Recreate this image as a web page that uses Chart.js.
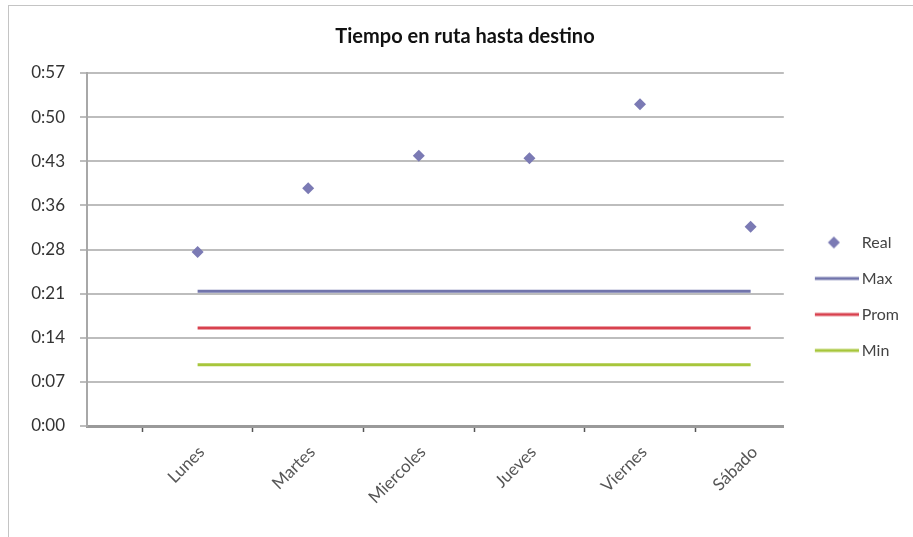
<!DOCTYPE html>
<html>
<head>
<meta charset="utf-8">
<title>Tiempo en ruta hasta destino</title>
<script src="https://cdn.jsdelivr.net/npm/chart.js@4/dist/chart.umd.min.js"></script>
<style>
  html, body { margin: 0; padding: 0; background: #fff; }
  #wrap { position: relative; width: 913px; height: 537px; overflow: hidden; }
  #wrap canvas { position: absolute; left: 0; top: 0; }
  #frame { position: absolute; left: 8px; top: 5px; right: -4px; bottom: -4px;
           border-left: 1px solid #c4c4c4; border-top: 1px solid #c4c4c4; pointer-events: none; }
</style>
</head>
<body>
<div id="wrap">
  <canvas id="chart" width="913" height="537"></canvas>
  <div id="frame"></div>
</div>
<script>
// Days of the week on the category axis
const days = ['Lunes', 'Martes', 'Miercoles', 'Jueves', 'Viernes', 'Sábado'];
// Travel time per day, in minutes
const realMin = [28.4, 38.8, 44.1, 43.7, 52.5, 32.5];
const maxMin  = [22, 22, 22, 22, 22, 22];
const promMin = [16, 16, 16, 16, 16, 16];
const minMin  = [10, 10, 10, 10, 10, 10];
// Value-axis ticks (minutes), shown as h:mm
const yTicks = [0, 7.2, 14.4, 21.6, 28.8, 36, 43.2, 50.4, 57.6];

const colReal = '#7b7ab4';
const colMax  = '#7174ab';
const colProm = '#d8414e';
const colMin  = '#a7c63b';

function hmm(v) {
  const m = Math.floor(v + 1e-6);
  return Math.floor(m / 60) + ':' + String(m % 60).padStart(2, '0');
}
const toPoints = arr => arr.map((v, i) => ({ x: i, y: v }));

// Legend swatches
function swatch(draw) {
  const c = document.createElement('canvas');
  c.width = 60; c.height = 14;
  draw(c.getContext('2d'));
  return c;
}
const diamond = swatch(g => {
  g.fillStyle = colReal;
  g.beginPath();
  g.moveTo(35, 1); g.lineTo(41, 7); g.lineTo(35, 13); g.lineTo(29, 7);
  g.closePath(); g.fill();
});
const lineSwatch = color => swatch(g => {
  g.strokeStyle = color; g.lineWidth = 3;
  g.beginPath(); g.moveTo(16, 7); g.lineTo(60, 7); g.stroke();
});
const swatches = [diamond, lineSwatch(colMax), lineSwatch(colProm), lineSwatch(colMin)];

const lineSet = (label, arr, color) => ({
  label, data: toPoints(arr), borderColor: color, backgroundColor: color,
  borderWidth: 3, pointRadius: 0, pointHoverRadius: 0, fill: false, tension: 0
});

new Chart(document.getElementById('chart'), {
  type: 'line',
  data: {
    datasets: [
      { label: 'Real', data: toPoints(realMin), showLine: false,
        pointStyle: 'rectRot', pointRadius: 6, pointBorderWidth: 0,
        backgroundColor: colReal, borderColor: colReal },
      lineSet('Max', maxMin, colMax),
      lineSet('Prom', promMin, colProm),
      lineSet('Min', minMin, colMin)
    ]
  },
  options: {
    responsive: false,
    animation: false,
    devicePixelRatio: 1,
    layout: { padding: { left: 21, right: 4, top: 0, bottom: 18 } },
    plugins: {
      title: {
        display: true,
        text: 'Tiempo en ruta hasta destino',
        color: '#111',
        font: { family: 'Lato', size: 20, weight: 'bold' },
        padding: { top: 25, bottom: 24 }
      },
      legend: {
        position: 'right',
        title: { display: true, text: ' ', font: { size: 10 }, padding: { top: 62, bottom: 0 } },
        labels: {
          usePointStyle: true,
          pointStyleWidth: 50,
          padding: 20,
          color: '#444',
          font: { family: 'Lato', size: 16 },
          generateLabels: chart => {
            const items = Chart.defaults.plugins.legend.labels.generateLabels(chart);
            items.forEach((it, i) => { it.pointStyle = swatches[i]; });
            return items;
          }
        }
      },
      tooltip: { enabled: false }
    },
    scales: {
      x: {
        type: 'linear',
        min: -1,
        max: 5.3,
        afterBuildTicks: s => {
          const t = [];
          for (let v = -0.5; v <= days.length - 1; v += 0.5) t.push({ value: v });
          s.ticks = t;
        },
        afterFit: s => { s.height = 93; },
        ticks: {
          autoSkip: false,
          minRotation: 45,
          maxRotation: 45,
          padding: 10,
          labelOffset: 4,
          color: '#555',
          font: { family: 'Lato', size: 17 },
          callback: v => Number.isInteger(v) ? days[v] : ''
        },
        grid: {
          drawOnChartArea: false,
          drawTicks: true,
          tickLength: 6,
          tickWidth: 1.5,
          tickColor: c => (c.tick && Number.isInteger(c.tick.value)) ? 'rgba(0,0,0,0)' : '#555'
        },
        border: { color: '#9a9a9a', width: 3 }
      },
      y: {
        min: 0,
        max: 57.6,
        afterBuildTicks: s => { s.ticks = yTicks.map(v => ({ value: v })); },
        afterFit: s => { s.width = 66; },
        ticks: {
          padding: 15,
          color: '#333',
          font: { family: 'Lato', size: 17 },
          callback: v => hmm(v)
        },
        grid: { color: '#bdbdbd', lineWidth: 2, tickLength: 7 },
        border: { color: '#a8a8a8', width: 2 }
      }
    }
  }
});
</script>
</body>
</html>
